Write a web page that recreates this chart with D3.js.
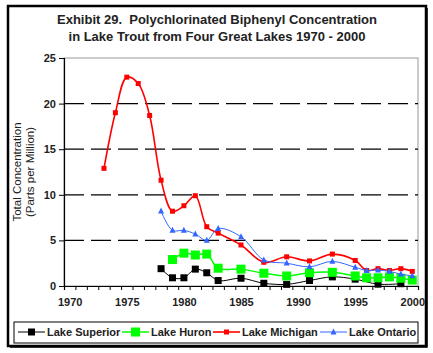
<!DOCTYPE html>
<html>
<head>
<meta charset="utf-8">
<script src="https://cdn.jsdelivr.net/npm/d3@7"></script>
<style>
  html, body { margin: 0; padding: 0; background: #fff; }
  svg { display: block; font-family: Arial, "Liberation Sans", sans-serif; }
  text { white-space: pre; }
</style>
</head>
<body>
<svg id="chart" width="433" height="353"></svg>
<script>
// ---- Data ----
const superiorYears = [1978, 1979, 1980, 1981, 1982, 1983, 1985, 1987, 1989, 1991, 1993, 1995, 1997, 1999];
const superiorValues = [1.9, 0.9, 0.9, 1.85, 1.45, 0.6, 0.85, 0.3, 0.18, 0.6, 1.0, 0.75, 0.2, 0.25];

const huronYears = [1979, 1980, 1981, 1982, 1983, 1985, 1987, 1989, 1991, 1993, 1995, 1996, 1997, 1998, 1999, 2000];
const huronValues = [2.9, 3.6, 3.4, 3.5, 1.95, 1.85, 1.4, 1.1, 1.45, 1.5, 1.1, 0.9, 0.9, 1.0, 0.85, 0.65];

const michiganYears = [1973, 1974, 1975, 1976, 1977, 1978, 1979, 1980, 1981, 1982, 1983, 1985, 1987, 1989, 1991, 1993, 1995, 1996, 1997, 1998, 1999, 2000];
const michiganValues = [12.9, 19.0, 22.9, 22.2, 18.7, 11.6, 8.2, 8.8, 9.9, 6.5, 5.8, 4.5, 2.6, 3.2, 2.75, 3.5, 2.8, 1.7, 1.9, 1.7, 1.9, 1.6];

const ontarioYears = [1978, 1979, 1980, 1981, 1982, 1983, 1985, 1987, 1989, 1991, 1993, 1995, 1996, 1997, 1998, 1999, 2000];
const ontarioValues = [8.2, 6.1, 6.1, 5.7, 5.0, 6.3, 5.4, 2.85, 2.5, 2.1, 2.7, 2.05, 1.7, 1.75, 1.6, 1.3, 1.1];

const yTicks = [0, 5, 10, 15, 20, 25];
const xTickLabels = [1970, 1975, 1980, 1985, 1990, 1995, 2000];
const seriesNames = ["Lake Superior", "Lake Huron", "Lake Michigan", "Lake Ontario"];
const titleLines = ["Exhibit 29.  Polychlorinated Biphenyl Concentration", "in Lake Trout from Four Great Lakes 1970 - 2000"];
const yTitleLines = ["Total Concentration", "(Parts per Million)"];

// ---- Styles ----
const styles = [
  { color: "#000000", marker: "square", size: 7, width: 1 },
  { color: "#00ff00", marker: "square", size: 9, width: 1.5 },
  { color: "#ff0000", marker: "square", size: 5, width: 1.6 },
  { color: "#3366ff", marker: "triangle", size: 6, width: 1 }
];
const series = [
  { years: superiorYears, values: superiorValues },
  { years: huronYears, values: huronValues },
  { years: michiganYears, values: michiganValues },
  { years: ontarioYears, values: ontarioValues }
];

const svg = d3.select("#chart");

// Outer frame (heavier right/bottom like a shadow)
svg.append("rect").attr("x", 8).attr("y", 6).attr("width", 418).attr("height", 340)
  .attr("fill", "#fff").attr("stroke", "#000").attr("stroke-width", 2.5);
svg.append("path").attr("d", "M427,8V347H10").attr("fill", "none").attr("stroke", "#000").attr("stroke-width", 1.5);

// Title
svg.append("g").selectAll("text").data(titleLines).join("text")
  .attr("x", 217).attr("y", (d, i) => 24 + i * 17)
  .attr("text-anchor", "middle").attr("font-size", 13).attr("font-weight", "bold").attr("fill", "#222")
  .attr("xml:space", "preserve")
  .text(d => d);

// Scales
const x = d3.scaleLinear().domain([1969.5, 2000.5]).range([64, 418]);
const y = d3.scaleLinear().domain([0, 25]).range([286, 58]);

// Plot border (gray)
svg.append("rect").attr("x", 64).attr("y", 58).attr("width", 354).attr("height", 228)
  .attr("fill", "none").attr("stroke", "#999").attr("stroke-width", 1);

// Gridlines
svg.append("g").selectAll("line").data(yTicks.filter(d => d > 0 && d < 25)).join("line")
  .attr("x1", 64).attr("x2", 418).attr("y1", d => y(d)).attr("y2", d => y(d))
  .attr("stroke", "#000").attr("stroke-width", 1.2).attr("stroke-dasharray", "20,7");

// Y axis
const yAxis = d3.axisLeft(y).tickValues(yTicks).tickSize(5).tickPadding(3).tickFormat(d3.format("d"));
const gy = svg.append("g").attr("transform", "translate(64,0)").call(yAxis);
gy.select(".domain").attr("stroke", "#000").attr("stroke-width", 1.2);
gy.selectAll(".tick line").attr("stroke", "#000");
gy.selectAll("text").attr("font-size", 11).attr("font-weight", "bold").attr("fill", "#222").attr("font-family", "Arial, 'Liberation Sans', sans-serif");

// X axis: ticks at half-years, labels at selected years
const halfTicks = d3.range(1969.5, 2001, 1);
const xAxisTicks = d3.axisBottom(x).tickValues(halfTicks).tickSize(4).tickFormat("");
const gx = svg.append("g").attr("transform", "translate(0,286)").call(xAxisTicks);
gx.select(".domain").attr("stroke", "#000").attr("stroke-width", 1.2);
gx.selectAll(".tick line").attr("stroke", "#000");
const xLabAxis = d3.axisBottom(x).tickValues(xTickLabels).tickSize(0).tickPadding(12).tickFormat(d3.format("d"));
const gxl = svg.append("g").attr("transform", "translate(0,286)").call(xLabAxis);
gxl.select(".domain").remove();
gxl.selectAll("text").attr("font-size", 11).attr("font-weight", "bold").attr("fill", "#222").attr("font-family", "Arial, 'Liberation Sans', sans-serif");

// Y title
svg.append("g").attr("transform", "translate(21,172) rotate(-90)")
  .selectAll("text").data(yTitleLines).join("text")
  .attr("x", 0).attr("y", (d, i) => i * 13)
  .attr("text-anchor", "middle").attr("font-size", 11.5).attr("fill", "#222")
  .text(d => d);

// Markers
function drawMarker(g, style, cx, cy) {
  const s = style.size;
  if (style.marker === "square") {
    g.append("rect").attr("x", cx - s / 2).attr("y", cy - s / 2).attr("width", s).attr("height", s).attr("fill", style.color);
  } else {
    const h = s;
    g.append("path").attr("d", `M${cx},${cy - h * 0.6}L${cx + s / 2},${cy + h * 0.4}L${cx - s / 2},${cy + h * 0.4}Z`).attr("fill", style.color);
  }
}

const line = d3.line().x(d => x(d[0])).y(d => y(d[1])).curve(d3.curveCatmullRom.alpha(0.5));
series.forEach((s, i) => {
  const st = styles[i];
  const pts = s.years.map((yr, j) => [yr, s.values[j]]);
  const g = svg.append("g");
  g.append("path").attr("d", line(pts)).attr("fill", "none").attr("stroke", st.color).attr("stroke-width", st.width);
  pts.forEach(p => drawMarker(g, st, x(p[0]), y(p[1])));
});

// Legend
svg.append("rect").attr("x", 14).attr("y", 322).attr("width", 404).attr("height", 21)
  .attr("fill", "#fff").attr("stroke", "#000").attr("stroke-width", 1);
const legendX = [18, 122, 213, 320];
seriesNames.forEach((name, i) => {
  const st = styles[i];
  const g = svg.append("g");
  const lx = legendX[i];
  g.append("line").attr("x1", lx).attr("x2", lx + 27).attr("y1", 332).attr("y2", 332)
    .attr("stroke", st.color).attr("stroke-width", st.width);
  drawMarker(g, st, lx + 13.5, 332);
  g.append("text").attr("x", lx + 29).attr("y", 336).attr("font-size", 11).attr("font-weight", "bold").attr("fill", "#222").text(name);
});
</script>
</body>
</html>
